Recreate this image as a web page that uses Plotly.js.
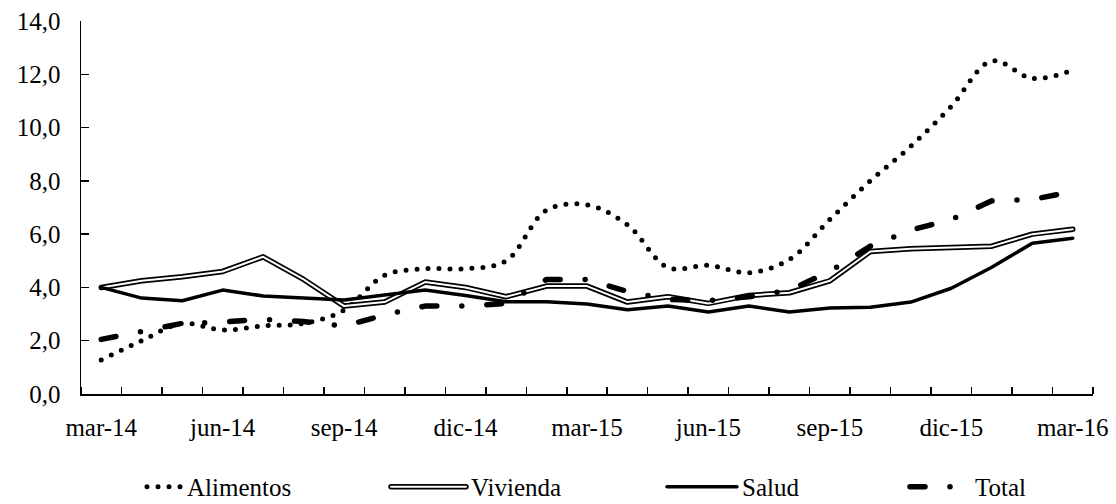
<!DOCTYPE html>
<html>
<head>
<meta charset="utf-8">
<script src="https://cdn.plot.ly/plotly-3.0.1.min.js"></script>
<style>
  html, body { margin: 0; padding: 0; background: #fff; }
  #chart { width: 1116px; height: 504px; }
  .js-line, .legendlines { stroke-linecap: round; stroke-linejoin: round; }
</style>
</head>
<body>
<div id="chart"></div>
<script>
const months = ['mar-14','abr-14','may-14','jun-14','jul-14','ago-14','sep-14','oct-14','nov-14','dic-14',
  'ene-15','feb-15','mar-15','abr-15','may-15','jun-15','jul-15','ago-15','sep-15','oct-15','nov-15','dic-15',
  'ene-16','feb-16','mar-16'];
const tickLabels = ['mar-14','jun-14','sep-14','dic-14','mar-15','jun-15','sep-15','dic-15','mar-16'];

const alimentos = [1.28, 2.0, 2.65, 2.4, 2.56, 2.65, 3.15, 4.45, 4.7, 4.7, 5.0, 6.9, 7.1, 6.35, 4.75, 4.83, 4.55, 5.05, 6.55, 8.0, 9.3, 10.8, 12.5, 11.85, 12.15];
const vivienda  = [4.0, 4.25, 4.4, 4.6, 5.15, 4.3, 3.3, 3.45, 4.2, 4.0, 3.65, 4.05, 4.05, 3.45, 3.65, 3.4, 3.7, 3.8, 4.25, 5.35, 5.45, 5.5, 5.55, 6.0, 6.18];
const salud     = [4.0, 3.6, 3.5, 3.9, 3.68, 3.6, 3.53, 3.72, 3.9, 3.7, 3.46, 3.46, 3.38, 3.16, 3.3, 3.08, 3.3, 3.08, 3.23, 3.26, 3.45, 3.97, 4.76, 5.66, 5.85];
const total     = [2.05, 2.35, 2.65, 2.7, 2.8, 2.72, 2.55, 2.97, 3.3, 3.3, 3.4, 4.3, 4.3, 3.85, 3.55, 3.5, 3.65, 3.9, 4.6, 5.55, 6.15, 6.55, 7.25, 7.3, 7.6];

const idx = months.map((m, i) => i);
const tickIdx = tickLabels.map(l => months.indexOf(l));

const FONT = 'Liberation Serif';

const traces = [
  {x: idx, y: alimentos, name: 'Alimentos', mode: 'lines', legend: 'legend',
   line: {color: '#000', width: 5, dash: '0px,11px', shape: 'spline', smoothing: 1}},
  {x: idx, y: vivienda, name: 'Vivienda', mode: 'lines', legend: 'legend2',
   line: {color: '#000', width: 5.5}},
  {x: idx, y: vivienda, name: ' ', mode: 'lines', legend: 'legend5',
   line: {color: '#fff', width: 2}},
  {x: idx, y: salud, name: 'Salud', mode: 'lines', legend: 'legend3',
   line: {color: '#000', width: 3.5}},
  {x: idx, y: total, name: 'Total', mode: 'lines', legend: 'legend4',
   line: {color: '#000', width: 5.5, dash: '15px,25px,0px,25px'}}
];

function leg(xpx, itemw) {
  return {orientation: 'h', x: (xpx - 81) / 1012, xanchor: 'left', y: -0.249, yanchor: 'middle',
          itemwidth: itemw, font: {family: FONT, size: 25, color: '#000'},
          bgcolor: 'rgba(0,0,0,0)'};
}

const layout = {
  width: 1116, height: 504,
  margin: {l: 81, r: 23, t: 21, b: 110, autoexpand: false},
  paper_bgcolor: '#fff', plot_bgcolor: '#fff',
  font: {family: FONT, size: 25, color: '#000'},
  separators: ',.',
  showlegend: true,
  legend: leg(142, 35),
  legend2: leg(386, 75),
  legend3: leg(662, 70),
  legend4: leg(905, 60),
  legend5: leg(386, 75),
  xaxis: {
    range: [-0.5, months.length - 0.5],
    tickmode: 'array', tickvals: tickIdx, ticktext: tickLabels,
    ticks: '', showgrid: false, zeroline: false,
    showline: true, linecolor: '#000', linewidth: 1.5,
    ticklabelstandoff: 10,
    tickfont: {family: FONT, size: 25, color: '#000'},
    minor: {tickmode: 'linear', tick0: -0.5, dtick: 1, ticks: 'inside', ticklen: 7, tickwidth: 1.5, tickcolor: '#000', showgrid: false},
    fixedrange: true
  },
  yaxis: {
    range: [0, 14], tickmode: 'linear', tick0: 0, dtick: 2, tickformat: '.1f',
    ticks: 'inside', ticklen: 8, tickwidth: 1.5, tickcolor: '#000',
    showgrid: false, zeroline: false,
    showline: true, linecolor: '#000', linewidth: 1.5,
    ticklabelstandoff: 14,
    tickfont: {family: FONT, size: 25, color: '#000'},
    fixedrange: true
  }
};

Plotly.newPlot('chart', traces, layout, {staticPlot: true, displayModeBar: false});
</script>
</body>
</html>
